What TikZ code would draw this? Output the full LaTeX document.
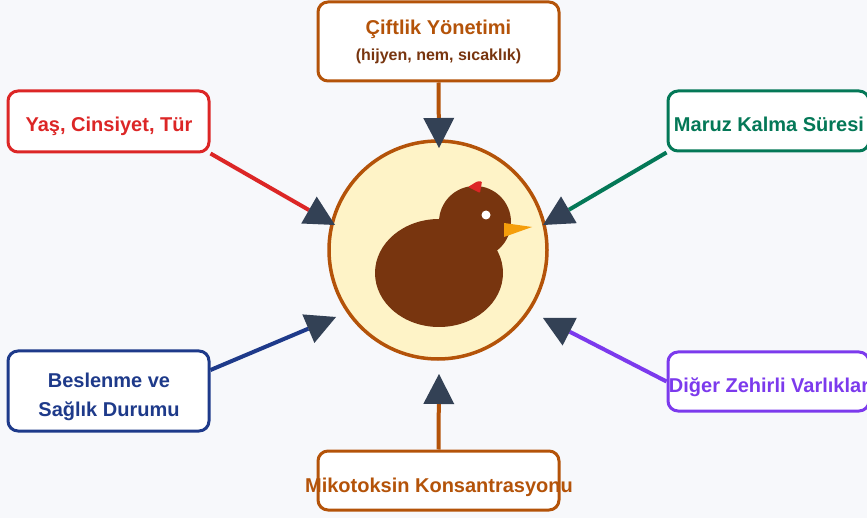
\documentclass[tikz,border=0pt]{standalone}
\usepackage{fontspec}
\setmainfont{Liberation Sans}
\usetikzlibrary{arrows.meta}
\definecolor{arkaplan}{HTML}{F7F8FB}
\definecolor{kirmizi}{HTML}{DC2626}
\definecolor{yesil}{HTML}{047857}
\definecolor{lacivert}{HTML}{1E3A8A}
\definecolor{mor}{HTML}{7C3AED}
\definecolor{turuncu}{HTML}{B45309}
\definecolor{kahve}{HTML}{78350F}
\definecolor{gaga}{HTML}{F59E0B}
\definecolor{krem}{HTML}{FEF3C7}
\definecolor{okrengi}{HTML}{334155}
\tikzset{
  kutu/.style = {draw = #1, fill = white, line width = 3pt, rounded corners = 10pt, inner sep = 0pt},
  yazi/.style = {text = #1, font = \bfseries\fontsize{20}{24}\selectfont, inner sep = 0pt, anchor = base},
  ok/.style = {draw = #1, line width = 4pt, -{Triangle[length = 30pt, width = 31pt, color = okrengi, line width = 0pt]}},
  daire/.style = {circle, draw = turuncu, fill = krem, line width = 3.5pt, minimum size = 218pt, inner sep = 0pt}
}
\begin{document}
\begin{tikzpicture}[x = 1pt, y = -1pt]
\useasboundingbox (0,0) rectangle (867,518);
\fill[arkaplan] (0,0) rectangle (867,518);
\clip (0,0) rectangle (867,518);
% civciv
\node[daire] (merkez) at (438,250) {};
\fill[kahve] (439,273) ellipse [x radius = 64pt, y radius = 54pt];
\fill[kahve] (475,222) circle [radius = 36pt];
\fill[white] (486,215) circle [radius = 4.5pt];
\fill[gaga] (504,223) -- (532,227) -- (504,237) -- cycle;
\fill[kirmizi, rounded corners = 1pt] (468,187) -- (477,181.5) -- (482,181.5) -- (480,193) -- cycle;
% kutular
\node[kutu = turuncu, minimum width = 241pt, minimum height = 79pt] (ciftlik) at (438.5,41.5) {};
\node[yazi = turuncu] (ciftlik-baslik) at (438.5,35) {Çiftlik Yönetimi};
\node[yazi = kahve, font = \bfseries\fontsize{16}{19}\selectfont] (ciftlik-alt) at (438.5,61) {(hijyen, nem, sıcaklık)};
\node[kutu = kirmizi, minimum width = 201pt, minimum height = 61pt] (yas) at (108.5,121.5) {};
\node[yazi = kirmizi] (yas-yazi) at (109,132) {Yaş, Cinsiyet, Tür};
\node[kutu = yesil, minimum width = 201pt, minimum height = 60pt] (maruz) at (768.5,121) {};
\node[yazi = yesil] (maruz-yazi) at (769,132) {Maruz Kalma Süresi};
\node[kutu = lacivert, minimum width = 201pt, minimum height = 80pt] (beslenme) at (108.5,391) {};
\node[yazi = lacivert] (beslenme-yazi1) at (109,388) {Beslenme ve};
\node[yazi = lacivert] (beslenme-yazi2) at (109,416) {Sağlık Durumu};
\node[kutu = mor, minimum width = 201pt, minimum height = 59pt] (diger) at (768.5,381.5) {};
\node[yazi = mor] (diger-yazi) at (769,392) {Diğer Zehirli Varlıklar};
\node[kutu = turuncu, minimum width = 241pt, minimum height = 59pt] (miko) at (438.5,480.5) {};
\node[yazi = turuncu] (miko-yazi) at (439,492) {Mikotoksin Konsantrasyonu};
% ok uclari
\coordinate (ucCiftlik) at (439,148);
\coordinate (ucYas) at (335,225);
\coordinate (ucMaruz) at (543,225);
\coordinate (ucBeslenme) at (336,317);
\coordinate (ucDiger) at (543,318);
\coordinate (ucMiko) at (439,374);
\coordinate (besCikis) at ([yshift = 21pt]beslenme.east);
\foreach \bas/\renk/\son in {ciftlik.south/turuncu/ucCiftlik, yas.south east/kirmizi/ucYas, maruz.south west/yesil/ucMaruz, besCikis/lacivert/ucBeslenme, diger.west/mor/ucDiger, miko.north/turuncu/ucMiko}
  \draw[ok = \renk] (\bas) -- (\son);
\end{tikzpicture}
\end{document}
